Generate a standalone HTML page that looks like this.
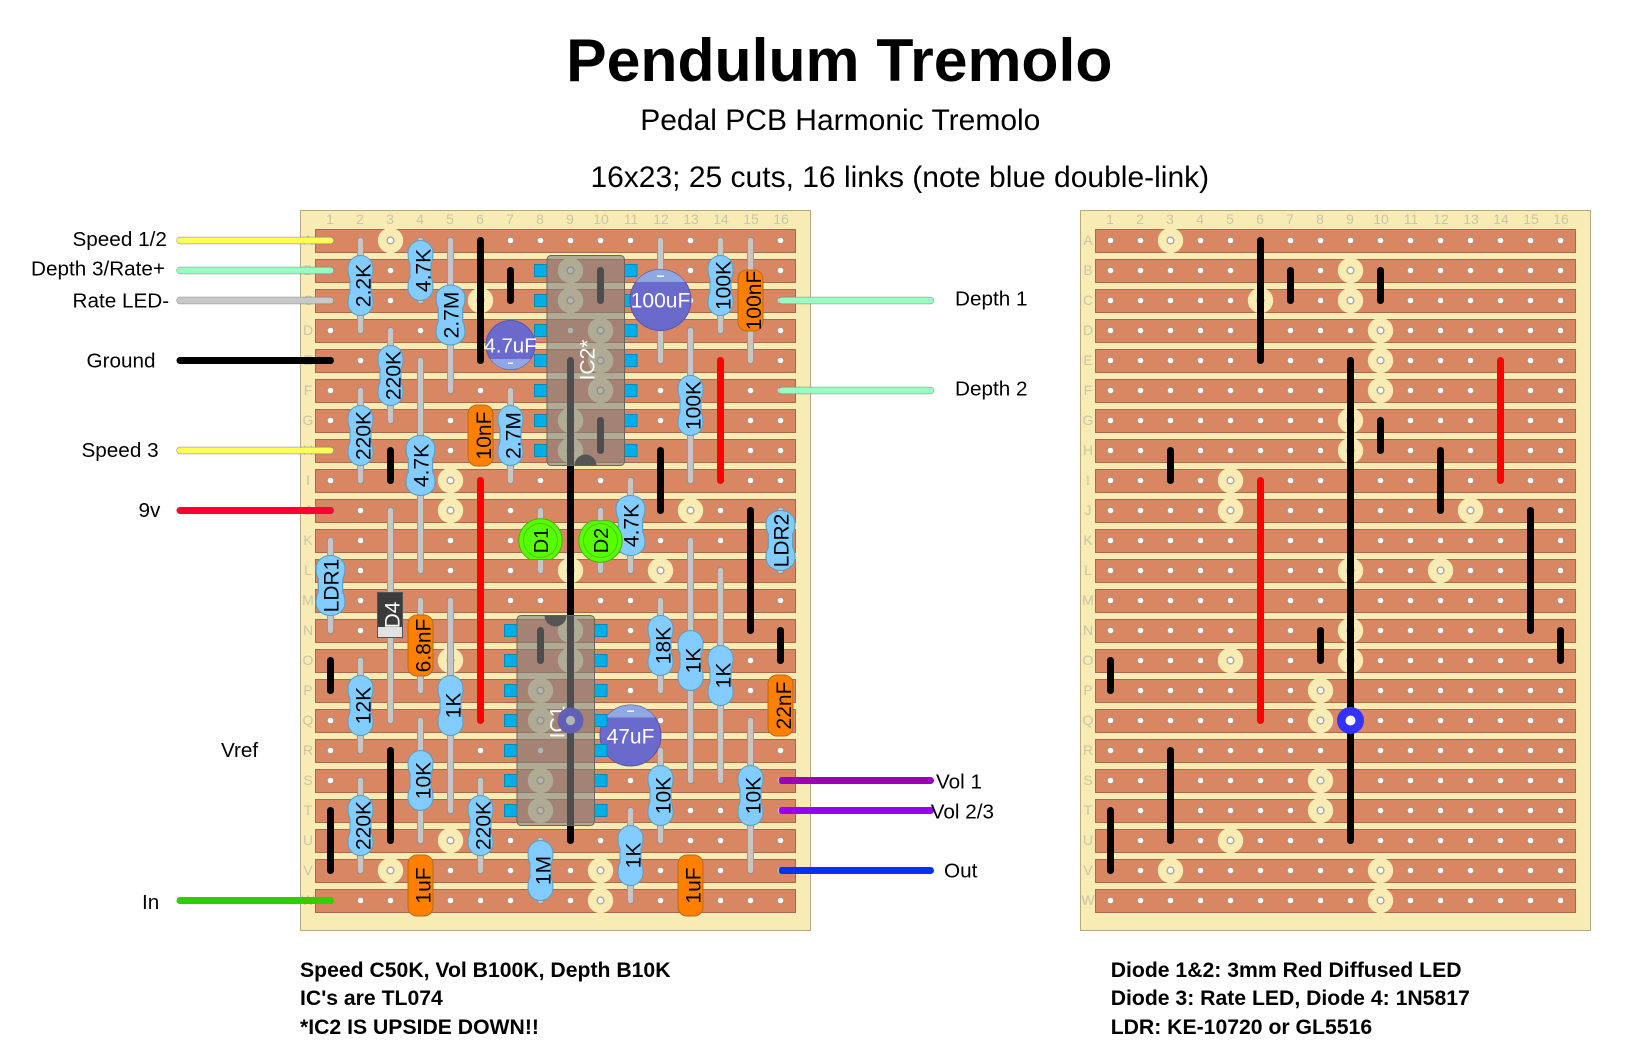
<!DOCTYPE html>
<html><head><meta charset="utf-8"><title>Pendulum Tremolo</title>
<style>
html,body{margin:0;padding:0;background:#fff}
svg{display:block}
text{font-family:"Liberation Sans",Arial,sans-serif}
.g{font-size:14px;fill:#c9c5a6;text-anchor:middle}
.l{font-size:20.7px;fill:#000}
.f{font-size:21.2px;font-weight:bold;fill:#000}
.t{font-size:21px;fill:#000;text-anchor:middle}
.w{font-size:21px;fill:#fff;text-anchor:middle}
</style></head><body>
<svg xmlns="http://www.w3.org/2000/svg" width="1652" height="1062" viewBox="0 0 1652 1062">
<defs>
<pattern id="h" patternUnits="userSpaceOnUse" x="315.5" y="225.5" width="30" height="30"><circle cx="15" cy="15" r="3.3" fill="#fff" stroke="#a8907e" stroke-width="1"/></pattern>
<g id="c"><circle r="12.7" fill="#f8ecb4"/><circle r="3.4" fill="#fff" stroke="#aea98c" stroke-width="1.4"/></g>
<g id="board">
<rect x="300.5" y="210.5" width="510" height="720" fill="#f8ecb4" stroke="#b3aa7c" stroke-width="1"/>
<g fill="#d98763" stroke="#a36a4f" stroke-width="1">
<rect x="315.5" y="229.5" width="480" height="23"/><rect x="315.5" y="259.5" width="480" height="23"/><rect x="315.5" y="289.5" width="480" height="23"/><rect x="315.5" y="319.5" width="480" height="23"/><rect x="315.5" y="349.5" width="480" height="23"/><rect x="315.5" y="379.5" width="480" height="23"/><rect x="315.5" y="409.5" width="480" height="23"/><rect x="315.5" y="439.5" width="480" height="23"/><rect x="315.5" y="469.5" width="480" height="23"/><rect x="315.5" y="499.5" width="480" height="23"/><rect x="315.5" y="529.5" width="480" height="23"/><rect x="315.5" y="559.5" width="480" height="23"/><rect x="315.5" y="589.5" width="480" height="23"/><rect x="315.5" y="619.5" width="480" height="23"/><rect x="315.5" y="649.5" width="480" height="23"/><rect x="315.5" y="679.5" width="480" height="23"/><rect x="315.5" y="709.5" width="480" height="23"/><rect x="315.5" y="739.5" width="480" height="23"/><rect x="315.5" y="769.5" width="480" height="23"/><rect x="315.5" y="799.5" width="480" height="23"/><rect x="315.5" y="829.5" width="480" height="23"/><rect x="315.5" y="859.5" width="480" height="23"/><rect x="315.5" y="889.5" width="480" height="23"/>
</g>
<rect x="315.5" y="225.5" width="480" height="690" fill="url(#h)"/>
<use href="#c" x="390.5" y="240.5"/><use href="#c" x="570.5" y="270.5"/><use href="#c" x="480.5" y="300.5"/><use href="#c" x="570.5" y="300.5"/><use href="#c" x="600.5" y="330.5"/><use href="#c" x="600.5" y="360.5"/><use href="#c" x="600.5" y="390.5"/><use href="#c" x="570.5" y="420.5"/><use href="#c" x="570.5" y="450.5"/><use href="#c" x="450.5" y="480.5"/><use href="#c" x="450.5" y="510.5"/><use href="#c" x="690.5" y="510.5"/><use href="#c" x="570.5" y="570.5"/><use href="#c" x="660.5" y="570.5"/><use href="#c" x="570.5" y="630.5"/><use href="#c" x="450.5" y="660.5"/><use href="#c" x="570.5" y="660.5"/><use href="#c" x="540.5" y="690.5"/><use href="#c" x="540.5" y="720.5"/><use href="#c" x="540.5" y="780.5"/><use href="#c" x="540.5" y="810.5"/><use href="#c" x="450.5" y="840.5"/><use href="#c" x="390.5" y="870.5"/><use href="#c" x="600.5" y="870.5"/><use href="#c" x="600.5" y="900.5"/>
</g>
<path id="links" fill="none" stroke="#000" stroke-width="7" stroke-linecap="round" d="M480.5 240.5V360.5M510.5 270.5V300.5M600.5 270.5V300.5M570.5 360.5V840.5M600.5 420.5V450.5M390.5 450.5V480.5M660.5 450.5V510.5M750.5 510.5V630.5M780.5 630.5V660.5M540.5 630.5V660.5M330.5 660.5V690.5M390.5 750.5V840.5M330.5 810.5V870.5"/>
<path id="reds" fill="none" stroke="#f00" stroke-width="7" stroke-linecap="round" d="M720.5 360.5V480.5M480.5 480.5V720.5"/>
<path id="leads" fill="none" stroke-linecap="round" d="M360.5 240.5V330.5M420.5 240.5V300.5M450.5 240.5V390.5M390.5 330.5V420.5M360.5 390.5V480.5M420.5 360.5V570.5M510.5 390.5V480.5M720.5 240.5V330.5M690.5 330.5V480.5M750.5 240.5V360.5M660.5 240.5V360.5M630.5 480.5V570.5M330.5 540.5V630.5M780.5 510.5V570.5M360.5 660.5V750.5M450.5 600.5V810.5M420.5 720.5V840.5M360.5 780.5V870.5M480.5 780.5V870.5M540.5 840.5V900.5M660.5 600.5V690.5M690.5 540.5V780.5M720.5 570.5V780.5M660.5 750.5V840.5M750.5 720.5V870.5M630.5 810.5V900.5M390.5 510.5V720.5M420.5 600.5V690.5M540.5 510.5V570.5M600.5 510.5V570.5"/>
<path id="r" fill="#82ccff" stroke="#5e9dbf" stroke-width="1" d="M0,-30A12.5,12.5 0 0 1 12.5,-17.5Q12.5,-10 10.5,-7V7Q12.5,10 12.5,17.5A12.5,12.5 0 0 1 0,30A12.5,12.5 0 0 1 -12.5,17.5Q-12.5,10 -10.5,7V-7Q-12.5,-10 -12.5,-17.5A12.5,12.5 0 0 1 0,-30Z"/>
<rect id="k" x="-12.5" y="-30.5" width="25" height="61" rx="9" fill="#ff8000" stroke="#b9691c" stroke-width="1"/>
</defs>

<!-- titles -->
<text x="839.3" y="81" font-size="60.7" font-weight="bold" text-anchor="middle">Pendulum Tremolo</text>
<text x="840.3" y="130" font-size="30" text-anchor="middle">Pedal PCB Harmonic Tremolo</text>
<text x="899.8" y="187" font-size="30" text-anchor="middle">16x23; 25 cuts, 16 links (note blue double-link)</text>

<!-- boards -->
<use href="#board"/>
<use href="#board" x="780"/>

<!-- grid labels left -->
<g class="g">
<text class="g" x="330" y="224">1</text><text class="g" x="360" y="224">2</text><text class="g" x="390" y="224">3</text><text class="g" x="420" y="224">4</text><text class="g" x="450" y="224">5</text><text class="g" x="480" y="224">6</text><text class="g" x="510" y="224">7</text><text class="g" x="540" y="224">8</text><text class="g" x="570" y="224">9</text><text class="g" x="601" y="224">10</text><text class="g" x="631" y="224">11</text><text class="g" x="661" y="224">12</text><text class="g" x="691" y="224">13</text><text class="g" x="721" y="224">14</text><text class="g" x="751" y="224">15</text><text class="g" x="781" y="224">16</text>
<text class="g" x="308" y="245">A</text><text class="g" x="308" y="275">B</text><text class="g" x="308" y="305">C</text><text class="g" x="308" y="335">D</text><text class="g" x="308" y="365">E</text><text class="g" x="308" y="395">F</text><text class="g" x="308" y="425">G</text><text class="g" x="308" y="455">H</text><text class="g" x="308" y="485">I</text><text class="g" x="308" y="515">J</text><text class="g" x="308" y="545">K</text><text class="g" x="308" y="575">L</text><text class="g" x="308" y="605">M</text><text class="g" x="308" y="635">N</text><text class="g" x="308" y="665">O</text><text class="g" x="308" y="695">P</text><text class="g" x="308" y="725">Q</text><text class="g" x="308" y="755">R</text><text class="g" x="308" y="785">S</text><text class="g" x="308" y="815">T</text><text class="g" x="308" y="845">U</text><text class="g" x="308" y="875">V</text><text class="g" x="308" y="905">W</text>
</g>
<!-- grid labels right -->
<g class="g">
<text class="g" x="1110" y="224">1</text><text class="g" x="1140" y="224">2</text><text class="g" x="1170" y="224">3</text><text class="g" x="1200" y="224">4</text><text class="g" x="1230" y="224">5</text><text class="g" x="1260" y="224">6</text><text class="g" x="1290" y="224">7</text><text class="g" x="1320" y="224">8</text><text class="g" x="1350" y="224">9</text><text class="g" x="1381" y="224">10</text><text class="g" x="1411" y="224">11</text><text class="g" x="1441" y="224">12</text><text class="g" x="1471" y="224">13</text><text class="g" x="1501" y="224">14</text><text class="g" x="1531" y="224">15</text><text class="g" x="1561" y="224">16</text>
<text class="g" x="1088" y="245">A</text><text class="g" x="1088" y="275">B</text><text class="g" x="1088" y="305">C</text><text class="g" x="1088" y="335">D</text><text class="g" x="1088" y="365">E</text><text class="g" x="1088" y="395">F</text><text class="g" x="1088" y="425">G</text><text class="g" x="1088" y="455">H</text><text class="g" x="1088" y="485">I</text><text class="g" x="1088" y="515">J</text><text class="g" x="1088" y="545">K</text><text class="g" x="1088" y="575">L</text><text class="g" x="1088" y="605">M</text><text class="g" x="1088" y="635">N</text><text class="g" x="1088" y="665">O</text><text class="g" x="1088" y="695">P</text><text class="g" x="1088" y="725">Q</text><text class="g" x="1088" y="755">R</text><text class="g" x="1088" y="785">S</text><text class="g" x="1088" y="815">T</text><text class="g" x="1088" y="845">U</text><text class="g" x="1088" y="875">V</text><text class="g" x="1088" y="905">W</text>
</g>

<!-- off-board wires -->
<path fill="none" stroke="#808080" stroke-opacity=".7" stroke-width="7.4" stroke-linecap="round" d="M180 240.5H330.5M180 270.5H330.5M180 300.5H330.5M180 450.5H330.5M782 300.5H930.5M782 390.5H930.5"/>
<g fill="none" stroke-linecap="round" stroke-width="6">
<path stroke="#ffff55" d="M180 240.5H330.5M180 450.5H330.5"/>
<path stroke="#96ffc2" d="M180 270.5H330.5M782 300.5H930.5M782 390.5H930.5"/>
<path stroke="#c8c8c8" d="M180 300.5H330.5"/>
</g>
<g fill="none" stroke-linecap="round" stroke-width="7">
<path stroke="#000" d="M180 360.5H330.5"/>
<path stroke="#ff0033" d="M180 510.5H330.5"/>
<path stroke="#33cc00" d="M180 900.5H330.5"/>
<path stroke="#9900bb" d="M782 780.5H930.5"/>
<path stroke="#9900ee" d="M782 810.5H930.5"/>
<path stroke="#0033ee" d="M782 870.5H930.5"/>
</g>

<!-- leads -->
<use href="#leads" stroke="#8e8e8e" stroke-width="7"/>
<use href="#leads" stroke="#c6c6c6" stroke-width="5.4"/>

<!-- links left & right -->
<use href="#links"/><use href="#reds"/>
<use href="#links" x="780"/><use href="#reds" x="780"/>
<circle cx="1350.5" cy="720.5" r="13.5" fill="#3333ff"/><circle cx="1350.5" cy="720.5" r="5" fill="#fff"/>

<!-- 47uF under IC1 pins -->
<g transform="translate(630.5,735.5)">
<circle r="30.5" fill="#6a6acc" stroke="#5656a8"/>
<path d="M-24.6,-18A30.5,30.5 0 0 1 24.6,-18Z" fill="#8fa8e2"/>
<rect x="-3.5" y="-25" width="7" height="1.4" fill="#fff"/>
<text class="w" y="8">47uF</text>
</g>

<!-- IC2 -->
<g fill="#00aee8" stroke="#0a88b5" stroke-width="1">
<rect x="534.5" y="264.5" width="12.5" height="12"/><rect x="534.5" y="324.5" width="12.5" height="12"/><rect x="534.5" y="294.5" width="12.5" height="12"/><rect x="534.5" y="354.5" width="12.5" height="12"/><rect x="534.5" y="384.5" width="12.5" height="12"/><rect x="534.5" y="414.5" width="12.5" height="12"/><rect x="534.5" y="444.5" width="12.5" height="12"/>
<rect x="624.5" y="264.5" width="12.5" height="12"/><rect x="624.5" y="294.5" width="12.5" height="12"/><rect x="624.5" y="324.5" width="12.5" height="12"/><rect x="624.5" y="354.5" width="12.5" height="12"/><rect x="624.5" y="384.5" width="12.5" height="12"/><rect x="624.5" y="414.5" width="12.5" height="12"/><rect x="624.5" y="444.5" width="12.5" height="12"/>
<rect x="504.5" y="624.5" width="12.5" height="12"/><rect x="504.5" y="654.5" width="12.5" height="12"/><rect x="504.5" y="684.5" width="12.5" height="12"/><rect x="504.5" y="714.5" width="12.5" height="12"/><rect x="504.5" y="744.5" width="12.5" height="12"/><rect x="504.5" y="774.5" width="12.5" height="12"/><rect x="504.5" y="804.5" width="12.5" height="12"/>
<rect x="594.5" y="624.5" width="12.5" height="12"/><rect x="594.5" y="654.5" width="12.5" height="12"/><rect x="594.5" y="684.5" width="12.5" height="12"/><rect x="594.5" y="714.5" width="12.5" height="12"/><rect x="594.5" y="744.5" width="12.5" height="12"/><rect x="594.5" y="774.5" width="12.5" height="12"/><rect x="594.5" y="804.5" width="12.5" height="12"/>
</g>
<rect x="547" y="255.5" width="77.5" height="210" rx="4" fill="#808080" fill-opacity=".6" stroke="#66665e" stroke-width="1"/>
<path d="M574.5,465.5A11,11 0 0 1 596.5,465.5Z" fill="#555"/>
<text class="w" transform="translate(594.5,360) rotate(-90)">IC2*</text>
<rect x="517" y="615.5" width="77.5" height="210" rx="4" fill="#808080" fill-opacity=".6" stroke="#66665e" stroke-width="1"/>
<path d="M544.5,615.5A11,11 0 0 0 566.5,615.5Z" fill="#555"/>
<text class="w" transform="translate(564.5,722) rotate(-90)">IC1</text>
<circle cx="570.5" cy="720.5" r="13" fill="#6060b6"/><circle cx="570.5" cy="720.5" r="4.6" fill="#b4b4b4"/>

<!-- electrolytics -->
<g transform="translate(510.5,345)">
<circle r="24.5" fill="#6a6acc" stroke="#5656a8"/>
<path d="M-20.1,14A24.5,24.5 0 0 0 20.1,14Z" fill="#8fa8e2"/>
<rect x="-2.5" y="17.5" width="5" height="1.4" fill="#fff"/>
<text class="w" style="font-size:20.5px" y="7.5">4.7uF</text>
</g>
<g transform="translate(660.5,300)">
<circle r="30.5" fill="#6a6acc" stroke="#5656a8"/>
<path d="M-24.6,-18A30.5,30.5 0 0 1 24.6,-18Z" fill="#8fa8e2"/>
<rect x="-3.5" y="-24.5" width="7" height="1.4" fill="#fff"/>
<text class="w" y="7.5">100uF</text>
</g>

<!-- film caps -->
<use href="#k" transform="translate(750.5,300.5)"/><text class="t" transform="translate(761,300.5) rotate(-90)">100nF</text>
<use href="#k" transform="translate(480.5,435.5)"/><text class="t" transform="translate(491,435.5) rotate(-90)">10nF</text>
<use href="#k" transform="translate(420.5,645.5)"/><text class="t" transform="translate(430.5,645.5) rotate(-90)">6.8nF</text>
<use href="#k" transform="translate(780.5,705.5)"/><text class="t" transform="translate(791,705.5) rotate(-90)">22nF</text>
<use href="#k" transform="translate(420.5,885.5)"/><text class="t" transform="translate(430.5,885.5) rotate(-90)">1uF</text>
<use href="#k" transform="translate(690.5,885.5)"/><text class="t" transform="translate(700.5,885.5) rotate(-90)">1uF</text>

<!-- resistors -->
<use href="#r" transform="translate(360.5,285.5)"/><text class="t" transform="translate(370.5,285.5) rotate(-90)">2.2K</text>
<use href="#r" transform="translate(420.5,270.5)"/><text class="t" transform="translate(430.5,270.5) rotate(-90)">4.7K</text>
<use href="#r" transform="translate(450.5,315) scale(1.16,1)"/><text class="t" transform="translate(458.5,315) rotate(-90)">2.7M</text>
<use href="#r" transform="translate(390.5,375.5)"/><text class="t" transform="translate(400.5,375.5) rotate(-90)">220K</text>
<use href="#r" transform="translate(360.5,435.5)"/><text class="t" transform="translate(370.5,435.5) rotate(-90)">220K</text>
<use href="#r" transform="translate(420.5,465.5) scale(1.16,1)"/><text class="t" transform="translate(428.5,465.5) rotate(-90)">4.7K</text>
<use href="#r" transform="translate(510.5,435.5)"/><text class="t" transform="translate(520.5,435.5) rotate(-90)">2.7M</text>
<use href="#r" transform="translate(720.5,285.5)"/><text class="t" transform="translate(730.5,285.5) rotate(-90)">100K</text>
<use href="#r" transform="translate(690.5,405.5)"/><text class="t" transform="translate(700.5,405.5) rotate(-90)">100K</text>
<use href="#r" transform="translate(630.5,525.5) scale(1.16,1)"/><text class="t" transform="translate(638.5,525.5) rotate(-90)">4.7K</text>
<use href="#r" transform="translate(330.5,585.5) scale(1.16,1)"/><text class="t" transform="translate(338.5,585.5) rotate(-90)">LDR1</text>
<use href="#r" transform="translate(780.5,540.5) scale(1.16,1)"/><text class="t" transform="translate(788.5,540.5) rotate(-90)">LDR2</text>
<use href="#r" transform="translate(360.5,705.5)"/><text class="t" transform="translate(370.5,705.5) rotate(-90)">12K</text>
<use href="#r" transform="translate(450.5,705.5)"/><text class="t" transform="translate(460.5,705.5) rotate(-90)">1K</text>
<use href="#r" transform="translate(420.5,780.5)"/><text class="t" transform="translate(430.5,780.5) rotate(-90)">10K</text>
<use href="#r" transform="translate(360.5,825.5)"/><text class="t" transform="translate(370.5,825.5) rotate(-90)">220K</text>
<use href="#r" transform="translate(480.5,825.5)"/><text class="t" transform="translate(490.5,825.5) rotate(-90)">220K</text>
<use href="#r" transform="translate(540.5,870.5)"/><text class="t" transform="translate(550.5,870.5) rotate(-90)">1M</text>
<use href="#r" transform="translate(660.5,645.5)"/><text class="t" transform="translate(670.5,645.5) rotate(-90)">18K</text>
<use href="#r" transform="translate(690.5,660.5)"/><text class="t" transform="translate(700.5,660.5) rotate(-90)">1K</text>
<use href="#r" transform="translate(720.5,675.5)"/><text class="t" transform="translate(730.5,675.5) rotate(-90)">1K</text>
<use href="#r" transform="translate(660.5,795.5)"/><text class="t" transform="translate(670.5,795.5) rotate(-90)">10K</text>
<use href="#r" transform="translate(750.5,795.5)"/><text class="t" transform="translate(760.5,795.5) rotate(-90)">10K</text>
<use href="#r" transform="translate(630.5,855.5)"/><text class="t" transform="translate(640.5,855.5) rotate(-90)">1K</text>

<!-- LEDs -->
<g transform="translate(540.5,540.5)">
<path d="M-10.4,19A21.7,21.7 0 1 1 10.4,19Z" fill="#55ff00" stroke="#46b010"/>
<circle r="17" fill="none" stroke="#46b010" stroke-opacity=".7"/>
<text class="t" style="font-size:20px" transform="translate(7.5,0) rotate(-90)">D1</text>
</g>
<g transform="translate(600.5,540.5)">
<path d="M-9,-19.7A21.7,21.7 0 1 0 9,-19.7Z" fill="#55ff00" stroke="#46b010"/>
<circle r="17" fill="none" stroke="#46b010" stroke-opacity=".7"/>
<text class="t" style="font-size:20px" transform="translate(7.5,0) rotate(-90)">D2</text>
</g>

<!-- D4 -->
<rect x="377.5" y="592.5" width="25" height="45" fill="#3c3c3c" stroke="#555"/>
<rect x="378" y="627" width="24" height="10" fill="#e2e2e2"/>
<text class="w" transform="translate(399.5,615) rotate(-90)">D4</text>

<!-- labels -->
<text class="l" x="72.5" y="246">Speed 1/2</text>
<text class="l" x="31" y="275.7">Depth 3/Rate+</text>
<text class="l" x="72.5" y="307.7">Rate LED-</text>
<text class="l" x="86.5" y="367.3">Ground</text>
<text class="l" x="81.5" y="457">Speed 3</text>
<text class="l" x="138.5" y="517">9v</text>
<text class="l" x="221" y="757">Vref</text>
<text class="l" x="142" y="909">In</text>
<text class="l" x="955" y="305.3">Depth 1</text>
<text class="l" x="955" y="395.3">Depth 2</text>
<text class="l" x="936" y="788.3">Vol 1</text>
<text class="l" x="930.7" y="818.3">Vol 2/3</text>
<text class="l" x="944" y="877.7">Out</text>

<!-- footers -->
<text class="f" x="300" y="977">Speed C50K, Vol B100K, Depth B10K</text>
<text class="f" x="300" y="1005">IC's are TL074</text>
<text class="f" x="300" y="1034">*IC2 IS UPSIDE DOWN!!</text>
<text class="f" x="1110.7" y="977">Diode 1&amp;2: 3mm Red Diffused LED</text>
<text class="f" x="1110.7" y="1005">Diode 3: Rate LED, Diode 4: 1N5817</text>
<text class="f" x="1110.7" y="1034">LDR: KE-10720 or GL5516</text>
</svg>
</body></html>
